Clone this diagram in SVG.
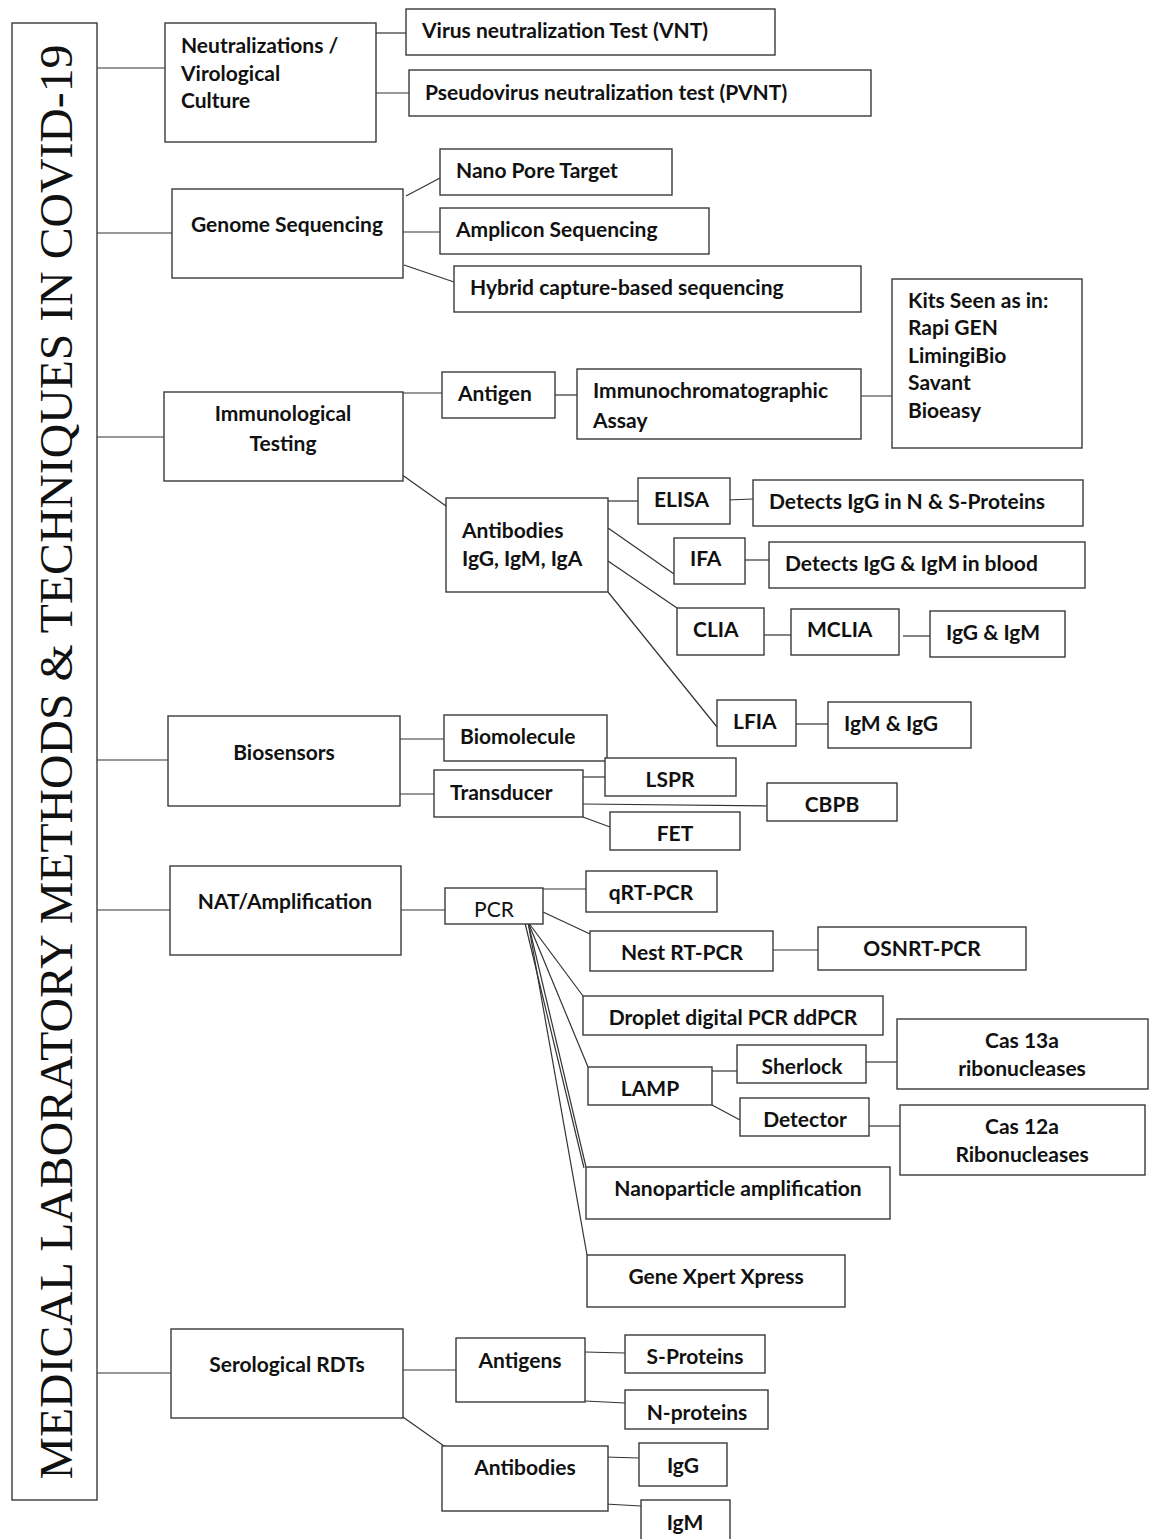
<svg xmlns="http://www.w3.org/2000/svg" width="1151" height="1539" viewBox="0 0 1151 1539">
<style>
.b{fill:#fff;stroke:#3a3a3a;stroke-width:1.4}
.t{font-family:Lato,"Liberation Sans",sans-serif;font-weight:bold;font-size:21px;fill:#111}
.c{text-anchor:middle}
.n{font-weight:normal}
#connectors line,#connectors polyline{stroke:#333;stroke-width:1.2;fill:none}
</style>
<rect width="1151" height="1539" fill="#fff"/>
<g id="connectors">
<line x1="97" y1="68" x2="165" y2="68"/>
<line x1="97" y1="233" x2="172" y2="233"/>
<line x1="97" y1="437" x2="164" y2="437"/>
<line x1="97" y1="760" x2="168" y2="760"/>
<line x1="97" y1="910" x2="170" y2="910"/>
<line x1="97" y1="1373" x2="171" y2="1373"/>
<line x1="376" y1="33" x2="406" y2="33"/>
<line x1="376" y1="93" x2="409" y2="93"/>
<line x1="406" y1="196" x2="440" y2="178"/>
<line x1="403" y1="232" x2="440" y2="232"/>
<line x1="404" y1="265" x2="454" y2="282"/>
<line x1="403" y1="393" x2="442" y2="393"/>
<line x1="555" y1="395" x2="577" y2="395"/>
<line x1="858" y1="396" x2="892" y2="396"/>
<line x1="398" y1="472" x2="446" y2="506"/>
<line x1="608" y1="501" x2="638" y2="501"/>
<line x1="728" y1="500" x2="753" y2="499"/>
<line x1="608" y1="528" x2="674" y2="574"/>
<line x1="745" y1="560" x2="769" y2="560"/>
<line x1="608" y1="561" x2="677" y2="608"/>
<line x1="764" y1="635" x2="791" y2="635"/>
<line x1="903" y1="636" x2="930" y2="636"/>
<line x1="608" y1="592" x2="717" y2="727"/>
<line x1="796" y1="724" x2="828" y2="724"/>
<line x1="400" y1="739" x2="444" y2="739"/>
<line x1="400" y1="794" x2="434" y2="794"/>
<line x1="583" y1="777" x2="605" y2="777"/>
<line x1="583" y1="804" x2="767" y2="806"/>
<line x1="583" y1="817" x2="610" y2="827"/>
<line x1="401" y1="910" x2="445" y2="910"/>
<line x1="543" y1="889" x2="586" y2="889"/>
<line x1="543" y1="912" x2="590" y2="934"/>
<line x1="773" y1="950" x2="818" y2="950"/>
<line x1="528" y1="922" x2="583" y2="996"/>
<line x1="528" y1="922" x2="588" y2="1067"/>
<line x1="528" y1="922" x2="586" y2="1167"/>
<line x1="525" y1="923" x2="584" y2="1168"/>
<line x1="528" y1="922" x2="587" y2="1255"/>
<line x1="712" y1="1071" x2="737" y2="1071"/>
<line x1="712" y1="1105" x2="740" y2="1120"/>
<line x1="866" y1="1062" x2="897" y2="1062"/>
<line x1="869" y1="1126" x2="900" y2="1126"/>
<line x1="403" y1="1370" x2="456" y2="1370"/>
<line x1="585" y1="1352" x2="625" y2="1353"/>
<line x1="585" y1="1401" x2="625" y2="1403"/>
<line x1="400" y1="1415" x2="444" y2="1446"/>
<line x1="605" y1="1457" x2="639" y2="1458"/>
<line x1="605" y1="1504" x2="641" y2="1506"/>
</g>
<g id="title"><rect class="b" x="12" y="23" width="85" height="1477"/>
<text x="72" y="762" transform="rotate(-90 72 762)" text-anchor="middle" font-family="'Liberation Serif',serif" font-size="47" textLength="1435" lengthAdjust="spacingAndGlyphs" fill="#111">MEDICAL LABORATORY METHODS &amp; TECHNIQUES IN COVID-19</text></g>
<g id="neutral"><rect class="b" x="165" y="23" width="211" height="119"/><text class="t" x="181" y="53">Neutralizations /</text><text class="t" x="181" y="81">Virological</text><text class="t" x="181" y="108">Culture</text></g>
<g id="vnt"><rect class="b" x="406" y="9" width="369" height="46"/><text class="t" x="422" y="38">Virus neutralization Test (VNT)</text></g>
<g id="pvnt"><rect class="b" x="409" y="70" width="462" height="46"/><text class="t" x="425" y="100">Pseudovirus neutralization test (PVNT)</text></g>
<g id="genome"><rect class="b" x="172" y="189" width="231" height="89"/><text class="t c" x="287" y="232">Genome Sequencing</text></g>
<g id="nanopore"><rect class="b" x="440" y="149" width="232" height="46"/><text class="t" x="456" y="178">Nano Pore Target</text></g>
<g id="amplicon"><rect class="b" x="440" y="208" width="269" height="46"/><text class="t" x="456" y="237">Amplicon Sequencing</text></g>
<g id="hybrid"><rect class="b" x="454" y="266" width="407" height="46"/><text class="t" x="470" y="295">Hybrid capture-based sequencing</text></g>
<g id="kits"><rect class="b" x="892" y="279" width="190" height="169"/><text class="t" x="908" y="308">Kits Seen as in:</text><text class="t" x="908" y="335">Rapi GEN</text><text class="t" x="908" y="363">LimingiBio</text><text class="t" x="908" y="390">Savant</text><text class="t" x="908" y="418">Bioeasy</text></g>
<g id="ica"><rect class="b" x="577" y="369" width="284" height="70"/><text class="t" x="593" y="398">Immunochromatographic</text><text class="t" x="593" y="428">Assay</text></g>
<g id="antigen"><rect class="b" x="442" y="372" width="113" height="46"/><text class="t" x="458" y="401">Antigen</text></g>
<g id="immuno"><rect class="b" x="164" y="392" width="239" height="89"/><text class="t c" x="283" y="421">Immunological</text><text class="t c" x="283" y="451">Testing</text></g>
<g id="antibodies"><rect class="b" x="446" y="498" width="162" height="94"/><text class="t" x="462" y="538">Antibodies</text><text class="t" x="462" y="566">IgG, IgM, IgA</text></g>
<g id="elisa"><rect class="b" x="638" y="478" width="92" height="46"/><text class="t" x="654" y="507">ELISA</text></g>
<g id="detnS"><rect class="b" x="753" y="480" width="330" height="46"/><text class="t" x="769" y="509">Detects IgG in N &amp; S-Proteins</text></g>
<g id="ifa"><rect class="b" x="674" y="538" width="71" height="46"/><text class="t" x="690" y="566">IFA</text></g>
<g id="detblood"><rect class="b" x="769" y="542" width="316" height="46"/><text class="t" x="785" y="571">Detects IgG &amp; IgM in blood</text></g>
<g id="clia"><rect class="b" x="677" y="608" width="87" height="47"/><text class="t" x="693" y="637">CLIA</text></g>
<g id="mclia"><rect class="b" x="791" y="609" width="108" height="46"/><text class="t" x="807" y="637">MCLIA</text></g>
<g id="iggigm"><rect class="b" x="930" y="611" width="135" height="46"/><text class="t" x="946" y="640">IgG &amp; IgM</text></g>
<g id="lfia"><rect class="b" x="717" y="700" width="79" height="46"/><text class="t" x="733" y="729">LFIA</text></g>
<g id="igmigg"><rect class="b" x="828" y="702" width="143" height="46"/><text class="t" x="844" y="731">IgM &amp; IgG</text></g>
<g id="biosensors"><rect class="b" x="168" y="716" width="232" height="90"/><text class="t c" x="284" y="760">Biosensors</text></g>
<g id="biomolecule"><rect class="b" x="444" y="715" width="163" height="46"/><text class="t" x="460" y="744">Biomolecule</text></g>
<g id="transducer"><rect class="b" x="434" y="770" width="149" height="47"/><text class="t" x="450" y="800">Transducer</text></g>
<g id="lspr"><rect class="b" x="605" y="758" width="131" height="38"/><text class="t c" x="670" y="787">LSPR</text></g>
<g id="cbpb"><rect class="b" x="767" y="783" width="130" height="38"/><text class="t c" x="832" y="812">CBPB</text></g>
<g id="fet"><rect class="b" x="610" y="812" width="130" height="38"/><text class="t c" x="675" y="841">FET</text></g>
<g id="nat"><rect class="b" x="170" y="866" width="231" height="89"/><text class="t c" x="285" y="909">NAT/Amplification</text></g>
<g id="pcr"><rect class="b" x="445" y="888" width="98" height="36"/><text class="t c n" x="494" y="917">PCR</text></g>
<g id="qrt"><rect class="b" x="586" y="871" width="131" height="41"/><text class="t c" x="651" y="900">qRT-PCR</text></g>
<g id="nest"><rect class="b" x="590" y="931" width="183" height="40"/><text class="t c" x="682" y="960">Nest RT-PCR</text></g>
<g id="osn"><rect class="b" x="818" y="927" width="208" height="43"/><text class="t c" x="922" y="956">OSNRT-PCR</text></g>
<g id="droplet"><rect class="b" x="583" y="996" width="300" height="39"/><text class="t c" x="733" y="1025">Droplet digital PCR ddPCR</text></g>
<g id="lamp"><rect class="b" x="588" y="1067" width="124" height="38"/><text class="t c" x="650" y="1096">LAMP</text></g>
<g id="sherlock"><rect class="b" x="737" y="1045" width="129" height="38"/><text class="t c" x="802" y="1074">Sherlock</text></g>
<g id="detector"><rect class="b" x="740" y="1098" width="129" height="38"/><text class="t c" x="805" y="1127">Detector</text></g>
<g id="cas13"><rect class="b" x="897" y="1019" width="251" height="70"/><text class="t c" x="1022" y="1048">Cas 13a</text><text class="t c" x="1022" y="1076">ribonucleases</text></g>
<g id="cas12"><rect class="b" x="900" y="1105" width="245" height="70"/><text class="t c" x="1022" y="1134">Cas 12a</text><text class="t c" x="1022" y="1162">Ribonucleases</text></g>
<g id="nano"><rect class="b" x="586" y="1167" width="304" height="52"/><text class="t c" x="738" y="1196">Nanoparticle amplification</text></g>
<g id="genex"><rect class="b" x="587" y="1255" width="258" height="52"/><text class="t c" x="716" y="1284">Gene Xpert Xpress</text></g>
<g id="sero"><rect class="b" x="171" y="1329" width="232" height="89"/><text class="t c" x="287" y="1372">Serological RDTs</text></g>
<g id="antigens"><rect class="b" x="456" y="1338" width="129" height="64"/><text class="t c" x="520" y="1368">Antigens</text></g>
<g id="sprot"><rect class="b" x="625" y="1335" width="140" height="38"/><text class="t c" x="695" y="1364">S-Proteins</text></g>
<g id="nprot"><rect class="b" x="625" y="1390" width="143" height="39"/><text class="t c" x="697" y="1420">N-proteins</text></g>
<g id="antib2"><rect class="b" x="442" y="1446" width="166" height="65"/><text class="t c" x="525" y="1475">Antibodies</text></g>
<g id="igg"><rect class="b" x="639" y="1443" width="88" height="43"/><text class="t c" x="683" y="1473">IgG</text></g>
<g id="igm"><rect class="b" x="641" y="1500" width="89" height="45"/><text class="t c" x="685" y="1530">IgM</text></g>
</svg>
